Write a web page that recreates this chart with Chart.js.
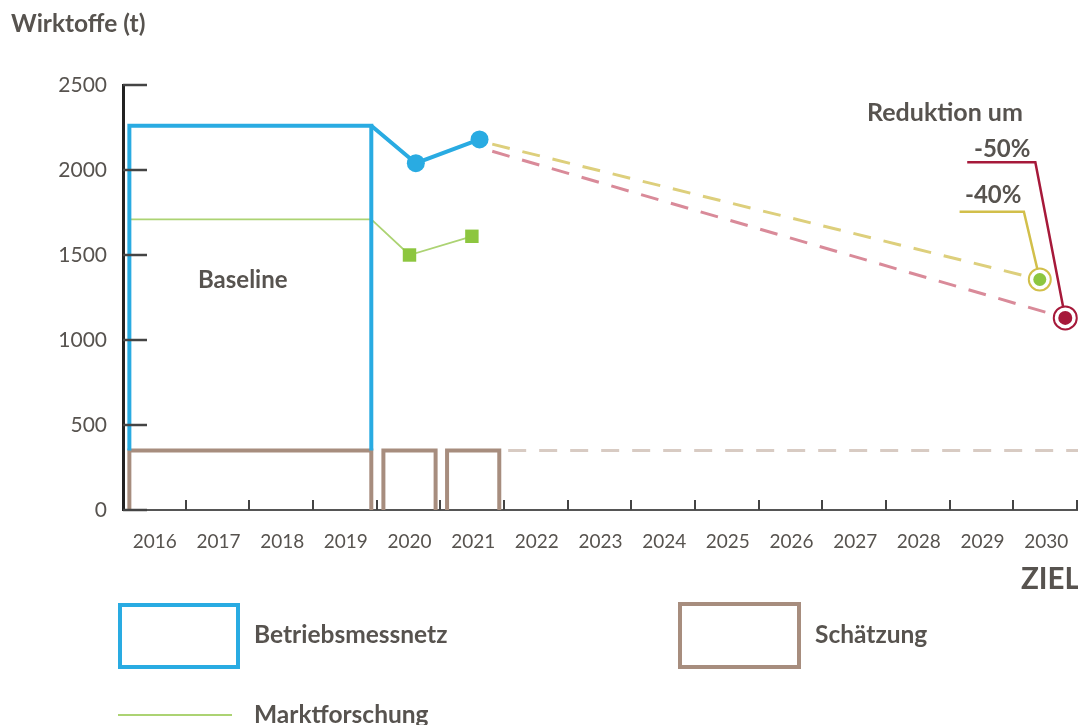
<!DOCTYPE html>
<html>
<head>
<meta charset="utf-8">
<script src="https://cdn.jsdelivr.net/npm/chart.js@4.4.1/dist/chart.umd.min.js"></script>
<style>
  html, body { margin: 0; padding: 0; background: #fff; }
  #wrap { position: relative; width: 1078px; height: 725px; font-family: Lato, sans-serif; color: #57534f; }
  canvas { position: absolute; left: 0; top: 0; }
  .lbl { position: absolute; font-weight: bold; line-height: 1; transform: translateY(-50%); white-space: nowrap; }
  .box { position: absolute; box-sizing: border-box; }
</style>
</head>
<body>
<div id="wrap">
  <canvas id="chart" width="1078" height="725"></canvas>
  <div class="lbl" style="left:11px; top:23px; font-size:24.5px;">Wirktoffe (t)</div>
  <div class="lbl" style="left:198px; top:279px; font-size:24px;">Baseline</div>
  <div class="lbl" style="left:867px; top:111px; font-size:25px;">Reduktion um</div>
  <div class="lbl" style="left:974px; top:148px; font-size:24px;">-50%</div>
  <div class="lbl" style="left:965px; top:194px; font-size:24px;">-40%</div>
  <div class="lbl" style="left:1021px; top:578px; font-size:29.5px;">ZIEL</div>

  <div class="box" style="left:118px; top:603px; width:122px; height:66px; border:4px solid #29abe2;"></div>
  <div class="lbl" style="left:254px; top:634px; font-size:24.5px;">Betriebsmessnetz</div>
  <div class="box" style="left:678px; top:602px; width:123px; height:67px; border:4px solid #a78d7e;"></div>
  <div class="lbl" style="left:815px; top:634px; font-size:24.5px;">Schätzung</div>
  <div class="box" style="left:118px; top:714px; width:114px; height:2px; background:#acd373;"></div>
  <div class="lbl" style="left:254px; top:714px; font-size:24.5px;">Marktforschung</div>
</div>
<script>
// data (tonnes)
const years = [2016, 2017, 2018, 2019, 2020, 2021, 2022, 2023, 2024, 2025, 2026, 2027, 2028, 2029, 2030];
const yTicks = [0, 500, 1000, 1500, 2000, 2500];
const messYears = [2020, 2021];
const messnetzBaseline = 2260;       // Betriebsmessnetz 2016-2019
const messnetzValues = [2040, 2180]; // 2020, 2021
const marktBaseline = 1710;          // Marktforschung 2016-2019
const marktValues = [1500, 1610];    // 2020, 2021
const schaetzungValue = 350;         // Schätzung
const ziel40 = 1356;                 // -40 %
const ziel50 = 1130;                 // -50 %

const C = {
  blue: '#29abe2', brown: '#a78d7e', brownLight: '#d8cbc3',
  greenLine: '#acd373', green: '#8dc63f',
  yellowDash: '#ddcf7c', yellow: '#d2bf4a',
  redDash: '#d98a99', red: '#a6193a',
  axis: '#222', axis2: '#555', text: '#57534f'
};

// baseline block spans 2016-2019, single years are drawn as narrow boxes
const bL = 2015.6, bR = 2019.4, half = 0.41;
const gap = { x: null, y: null };

const schaetzBoxes = [
  { x: bL, y: 0 }, { x: bL, y: schaetzungValue }, { x: bR, y: schaetzungValue }, { x: bR, y: 0 }, gap
];
messYears.forEach(yr => {
  schaetzBoxes.push({ x: yr - half, y: 0 }, { x: yr - half, y: schaetzungValue },
                    { x: yr + half, y: schaetzungValue }, { x: yr + half, y: 0 }, { x: null, y: null });
});

const lastYear = years[years.length - 1];

const datasets = [
  // target markers (first = drawn on top)
  { data: [{ x: lastYear - 0.1, y: ziel40 }], pointRadius: 6.5, pointBackgroundColor: C.green, pointBorderWidth: 0, showLine: false },
  { data: [{ x: lastYear + 0.3, y: ziel50 }], pointRadius: 7, pointBackgroundColor: C.red, pointBorderWidth: 0, showLine: false },
  { data: [{ x: lastYear - 0.1, y: ziel40 }], pointRadius: 11, pointBackgroundColor: '#fff', pointBorderColor: C.yellow, pointBorderWidth: 2, showLine: false },
  { data: [{ x: lastYear + 0.3, y: ziel50 }], pointRadius: 11.5, pointBackgroundColor: '#fff', pointBorderColor: C.red, pointBorderWidth: 2, showLine: false },
  // leader lines for the labels
  { data: [{ x: 2028.64, y: 1755 }, { x: 2029.65, y: 1755 }, { x: lastYear - 0.1, y: ziel40 }], borderColor: C.yellow, borderWidth: 2.5, pointRadius: 0 },
  { data: [{ x: 2028.76, y: 2045 }, { x: 2029.83, y: 2045 }, { x: lastYear + 0.3, y: ziel50 }], borderColor: C.red, borderWidth: 2.5, pointRadius: 0 },
  // projections
  { data: [{ x: 2021.3, y: 2152 }, { x: lastYear - 0.1, y: ziel40 }], borderColor: C.yellowDash, borderWidth: 3, borderDash: [18, 13], pointRadius: 0 },
  { data: [{ x: 2021.3, y: 2110 }, { x: lastYear + 0.3, y: ziel50 }], borderColor: C.redDash, borderWidth: 3, borderDash: [18, 13], pointRadius: 0 },
  // Betriebsmessnetz
  { data: [{ x: bR, y: messnetzBaseline }].concat(messYears.map((yr, i) => ({ x: yr + 0.1, y: messnetzValues[i] }))),
    borderColor: C.blue, borderWidth: 4, pointRadius: [0, 9, 9], pointBackgroundColor: C.blue, pointBorderWidth: 0 },
  { data: [{ x: bL, y: schaetzungValue }, { x: bL, y: messnetzBaseline }, { x: bR, y: messnetzBaseline }, { x: bR, y: schaetzungValue }],
    borderColor: C.blue, borderWidth: 4, pointRadius: 0 },
  // Marktforschung
  { data: [{ x: bL, y: marktBaseline }, { x: bR, y: marktBaseline }].concat(messYears.map((yr, i) => ({ x: yr - 0.02 * i, y: marktValues[i] }))),
    borderColor: C.greenLine, borderWidth: 1.8, pointRadius: [0, 0, 9.5, 9.5], pointStyle: 'rect',
    pointBackgroundColor: C.green, pointBorderWidth: 0 },
  // Schätzung
  { data: schaetzBoxes, borderColor: C.brown, borderWidth: 4, pointRadius: 0, spanGaps: false },
  { data: [{ x: 2021.55, y: schaetzungValue }, { x: lastYear + 0.5, y: schaetzungValue }],
    borderColor: C.brownLight, borderWidth: 3, borderDash: [18, 13], pointRadius: 0 }
];
datasets.forEach(d => { d.tension = 0; d.fill = false; d.borderJoinStyle = 'miter'; d.clip = false; });

// tick marks drawn inward like in the original
const innerTicks = {
  id: 'innerTicks',
  afterDatasetsDraw(chart) {
    const { ctx, scales: { x, y } } = chart;
    ctx.save();
    ctx.strokeStyle = '#444';
    ctx.lineWidth = 2.5;
    yTicks.forEach(v => {
      const py = Math.round(y.getPixelForValue(v));
      ctx.beginPath(); ctx.moveTo(x.left, py); ctx.lineTo(x.left + 24, py); ctx.stroke();
    });
    ctx.lineWidth = 2;
    years.forEach(v => {
      const px = Math.round(x.getPixelForValue(v + 0.5)) - 1;
      ctx.beginPath(); ctx.moveTo(px, y.bottom); ctx.lineTo(px, y.bottom - 10); ctx.stroke();
    });
    ctx.restore();
  }
};

new Chart(document.getElementById('chart'), {
  type: 'line',
  data: { datasets },
  options: {
    responsive: false,
    animation: false,
    layout: { autoPadding: false, padding: { top: 85, bottom: 165, left: 0, right: 0 } },
    plugins: { legend: { display: false }, tooltip: { enabled: false } },
    scales: {
      x: {
        type: 'linear', min: years[0] - 0.5, max: lastYear + 0.5,
        afterBuildTicks: s => { s.ticks = years.map(v => ({ value: v })); },
        afterFit: s => { s.height = 50; s.paddingLeft = 0; s.paddingRight = 0; },
        grid: { display: false },
        border: { color: C.axis2, width: 2 },
        ticks: { color: C.text, font: { family: 'Lato', size: 19 }, padding: 12, maxRotation: 0, autoSkip: false, callback: v => String(v) }
      },
      y: {
        min: 0, max: 2500,
        afterBuildTicks: s => { s.ticks = yTicks.map(v => ({ value: v })); },
        afterFit: s => { s.width = 123; s.paddingTop = 0; s.paddingBottom = 0; },
        grid: { display: false },
        border: { color: C.axis, width: 3 },
        ticks: { color: C.text, font: { family: 'Lato', size: 21 }, padding: 8, callback: v => String(v) }
      }
    }
  },
  plugins: [innerTicks]
});
</script>
</body>
</html>
